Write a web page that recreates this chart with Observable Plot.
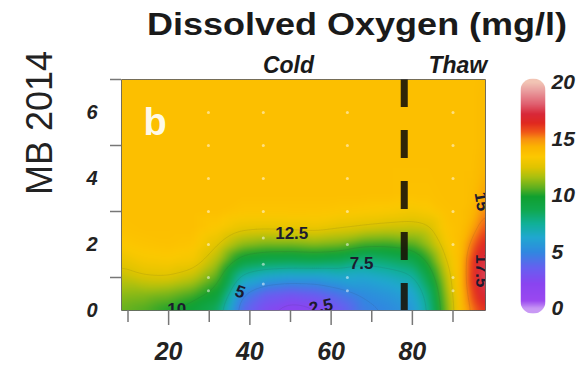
<!DOCTYPE html>
<html><head><meta charset="utf-8">
<script src="https://cdn.jsdelivr.net/npm/d3@7"></script>
<script src="https://cdn.jsdelivr.net/npm/@observablehq/plot@0.6"></script>
<style>
body{margin:0;background:#fff;}
#wrap{position:relative;width:587px;height:365px;overflow:hidden;font-family:"Liberation Sans",Arial,sans-serif;}
#wrap svg{position:absolute;left:0;top:0;}
#title{position:absolute;left:147px;top:8px;font-size:32px;font-weight:bold;line-height:32px;white-space:nowrap;color:#1a1a1a;transform:scaleX(1.125);transform-origin:0 0;z-index:5;}
</style></head>
<body><div id="wrap"><div id="title">Dissolved Oxygen (mg/l)</div></div>
<script>
// ---- data ----
const days   = [8, 14, 20, 26, 32, 38, 44, 50, 56, 62, 68, 74, 80, 84, 88, 92, 95, 98];
const depths = [0, 0.5, 1, 1.5, 2, 2.5, 3, 3.5, 4.5, 5.5, 7];
const do_0_0 = [10.8, 10.5, 10.0, 9.4, 8.3, 4.0, 2.5, 1.8, 2.1, 3.2, 4.6, 5.0, 5.6, 7.5, 10.8, 13.8, 15.3, 16.2];
const do_0_5 = [11.3, 11.2, 11.0, 10.5, 9.6, 5.0, 3.6, 3.2, 3.5, 4.3, 5.2, 5.6, 6.2, 8.0, 11.2, 13.9, 16.0, 17.4];
const do_1_0 = [12.0, 12.4, 12.5, 12.0, 10.6, 7.0, 6.2, 5.9, 5.9, 6.3, 6.2, 6.6, 7.2, 9.0, 11.7, 14.0, 16.5, 17.9];
const do_1_5 = [12.7, 13.2, 13.3, 13.1, 11.7, 9.3, 8.8, 8.7, 8.8, 8.6, 7.8, 8.2, 8.7, 10.2, 12.4, 14.0, 16.3, 17.6];
const do_2_0 = [13.4, 13.6, 13.7, 13.6, 12.6, 11.3, 11.0, 11.0, 11.2, 11.0, 10.4, 10.3, 10.6, 11.5, 13.0, 13.9, 15.5, 16.7];
const do_2_5 = [13.7, 13.8, 13.8, 13.8, 13.4, 12.8, 12.7, 12.8, 12.9, 12.6, 12.4, 12.2, 12.1, 12.3, 13.5, 13.8, 14.6, 15.8];
const do_3_0 = [13.8, 13.8, 13.8, 13.8, 13.8, 13.6, 13.6, 13.6, 13.6, 13.5, 13.4, 13.3, 13.1, 13.3, 13.7, 13.8, 14.1, 15.2];
const do_3_5 = [13.8, 13.8, 13.8, 13.8, 13.8, 13.8, 13.8, 13.8, 13.8, 13.8, 13.8, 13.8, 13.7, 13.7, 13.8, 13.8, 13.9, 14.8];
const do_4_5 = [13.8, 13.8, 13.8, 13.8, 13.8, 13.8, 13.8, 13.8, 13.8, 13.8, 13.8, 13.8, 13.8, 13.8, 13.8, 13.8, 13.8, 14.2];
const do_5_5 = [13.8, 13.8, 13.8, 13.8, 13.8, 13.8, 13.8, 13.8, 13.8, 13.8, 13.8, 13.8, 13.8, 13.8, 13.8, 13.8, 13.8, 14.0];
const do_7_0 = [13.8, 13.8, 13.8, 13.8, 13.8, 13.8, 13.8, 13.8, 13.8, 13.8, 13.8, 13.8, 13.8, 13.8, 13.8, 13.8, 13.8, 13.9];
const rows = [do_0_0, do_0_5, do_1_0, do_1_5, do_2_0, do_2_5, do_3_0, do_3_5, do_4_5, do_5_5, do_7_0];

const colorValues = [0, 0.7, 2.2, 3.6, 5.0, 6.3, 7.5, 8.7, 9.9, 10.7, 11.6, 12.5, 13.4, 14.3, 15.0, 15.6, 16.4, 17.2, 18.1, 19.3, 20];
const colorHexes  = ["#c898f4","#9a48f0","#8a44f0","#6660f0","#3088e0","#20a8d0","#10b098","#10a850","#10a030","#60b020","#a8c010","#e0c400","#fcc800","#fbb400","#f89010","#f05818","#e02820","#d82838","#e06070","#eaa0a0","#f2c4b4"];

const contourLevels = [2.5, 5, 7.5, 10, 12.5, 15, 17.5];
const labelTexts  = ["12.5", "7.5", "5", "2.5", "10", "15", "17.5"];
const labelDays   = [50.3, 67.5, 37.6, 57.5, 22, 97.0, 96.9];
const labelDepths = [2.34, 1.42, 0.56, 0.12, 0.03, 3.3, 1.2];
const labelAngles = [0, 0, 20, -12, 0, 80, 90];

const sampleDays = [29.8, 43.3, 64, 90];
const sampleDepthsA = [0.6, 1.0, 2.0, 3.0, 4.0, 5.0, 6.0];
const sampleDepthsB = [0.8, 1.4, 2.2, 3.0, 4.0, 5.0, 6.0];

const dividerDay = [78];
const phaseNames = ["Cold", "Thaw"];
const phaseDays = [49.5, 91.2];

const xMinorTicks = [10, 30, 50, 70, 90];
const xMajorTicks = [20, 40, 60, 80];
const yTickMarks = [1, 3, 5, 7];
const yTickLabels = [0, 2, 4, 6];
const legendTicks = [0, 5, 10, 15, 20];

// ---- tables ----
const table = [];
depths.forEach((d, i) => days.forEach((x, j) => table.push({day: x, depth: d, v: rows[i][j]})));
const labels = labelTexts.map((t, i) => ({t, day: labelDays[i], depth: labelDepths[i], a: labelAngles[i]}));
const samples = [];
sampleDays.forEach((x, k) => (k === 1 ? sampleDepthsB : sampleDepthsA).forEach(d => samples.push({day: x, depth: d})));

const colorScale = {type: "linear", domain: colorValues, range: colorHexes, clamp: true};
const font = "'Liberation Sans', Arial, sans-serif";
const intFmt = d3.format("d");

const main = Plot.plot({
  width: 587, height: 365,
  marginLeft: 121, marginRight: 102, marginTop: 79, marginBottom: 55,
  x: {domain: [8.4, 98], label: null},
  y: {domain: [0, 7], label: null},
  color: colorScale,
  style: {background: "transparent", fontFamily: font, overflow: "visible"},
  marks: [
    Plot.raster(table, {x: "day", y: "depth", fill: "v", interpolate: "barycentric", pixelSize: 1, blur: 3}),
    Plot.contour(table, {x: "day", y: "depth", value: "v", thresholds: contourLevels, interpolate: "barycentric", blur: 3, fill: "none", stroke: "#333", strokeOpacity: 0.1}),
    Plot.dot(samples, {x: "day", y: "depth", r: 1.5, fill: "white", fillOpacity: 0.5}),
    Plot.ruleX(dividerDay, {x: d => d, y1: 7, y2: 0, stroke: "#1a1408", strokeOpacity: 0.9, strokeWidth: 7, strokeDasharray: "28,23"}),
    Plot.text(labels, {x: "day", y: "depth", text: "t", rotate: "a", fontSize: 17, fontWeight: "bold", fill: "#1c1a2e", clip: true}),
    Plot.text(["b"], {frameAnchor: "top-left", textAnchor: "start", lineAnchor: "bottom", dx: 22, dy: 55, fontSize: 38, fontWeight: "bold", fill: "white", fillOpacity: 0.92}),
    Plot.text(phaseNames, {x: (d, i) => phaseDays[i], text: d => d, frameAnchor: "top", lineAnchor: "bottom", dy: -7, fontSize: 23, fontWeight: "bold", fontStyle: "italic", fill: "#1a1a1a"}),
    Plot.text(["MB 2014"], {frameAnchor: "left", dx: -81, rotate: -90, fontSize: 36, fill: "#222"}),
    Plot.frame({stroke: "#555", strokeOpacity: 0.6}),
    Plot.axisX({ticks: xMinorTicks, tickSize: 12, stroke: "#777", strokeWidth: 1.5, fill: "none", label: null}),
    Plot.axisX({ticks: xMajorTicks, tickSize: 15, stroke: "#777", strokeWidth: 1.5, fill: "none", label: null}),
    Plot.axisX({ticks: xMajorTicks, tickSize: 0, tickPadding: 32, tickFormat: intFmt, fontSize: 25, fontWeight: "bold", fontStyle: "italic", fill: "#222", label: null}),
    Plot.axisY({ticks: yTickMarks, tickSize: 11, stroke: "#777", strokeWidth: 1.5, fill: "none", label: null}),
    Plot.axisY({ticks: yTickLabels, tickSize: 0, tickPadding: 24, tickFormat: intFmt, fontSize: 20, fontWeight: "bold", fontStyle: "italic", fill: "#222", label: null})
  ]
});

const legend = Plot.plot({
  width: 587, height: 365,
  marginLeft: 520, marginRight: 42, marginTop: 82, marginBottom: 57,
  x: {domain: [0, 1], axis: null},
  y: {domain: [0, 20], label: null},
  color: colorScale,
  style: {background: "transparent", fontFamily: font, overflow: "visible"},
  marks: [
    Plot.raster({fill: (x, y) => y, x1: 0, x2: 1, y1: -0.45, y2: 20.35, pixelSize: 1}),
    Plot.axisY({anchor: "right", ticks: legendTicks, tickSize: 0, tickPadding: 6, tickFormat: intFmt, fontSize: 21, fontWeight: "bold", fontStyle: "italic", fill: "#222", label: null})
  ]
});
const img = legend.querySelector("image");
if (img) img.style.clipPath = "inset(0 round 12px)";

const wrap = document.getElementById("wrap");
wrap.appendChild(main);
wrap.appendChild(legend);
</script>
</body></html>
